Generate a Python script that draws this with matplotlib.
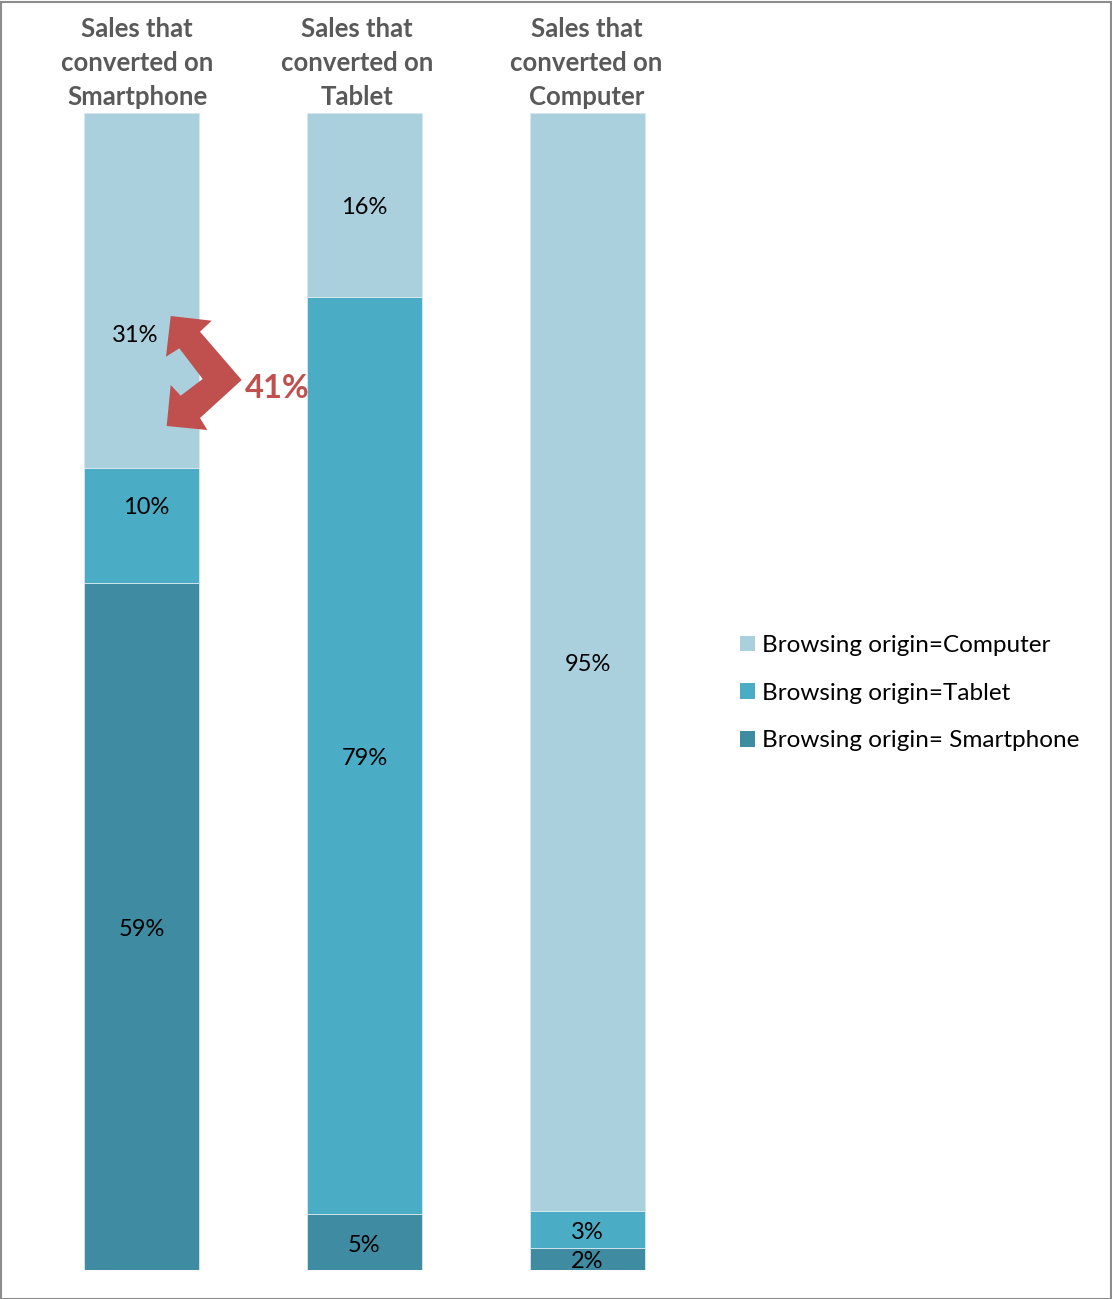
import matplotlib
matplotlib.use("Agg")
import matplotlib.pyplot as plt
from matplotlib.patches import Patch, Polygon, Rectangle
import numpy as np

plt.rcParams['font.family'] = ['Lato', 'DejaVu Sans']

# data (shares in %, labels show the rounded value)
categories = ["Sales that\nconverted on\nSmartphone",
              "Sales that\nconverted on\nTablet",
              "Sales that\nconverted on\nComputer"]
origins = ["Browsing origin= Smartphone", "Browsing origin=Tablet",
           "Browsing origin=Computer"]
smartphone = [59.4, 4.8, 1.9]
tablet = [9.9, 79.3, 3.2]
computer = [30.7, 15.9, 94.9]
highlight = "41%"

colors = ["#3E8BA2", "#4BACC6", "#AACFDD"]

W, H = 1112, 1299
fig = plt.figure(figsize=(W / 100, H / 100), dpi=100)

# main axes: bars drawn in category / percent units
ax = fig.add_axes([0, 29 / H, 1, (1270 - 113) / H])
x = np.arange(len(categories))
bar_w = 0.516
ax.set_xlim(-0.6345, 4.352)
ax.set_ylim(0, 100)
ax.axis('off')

series = [smartphone, tablet, computer]
bottom = np.zeros(len(categories))
# small label nudges (in data units) where the original moves a label
nudge = {(0, 2): (-0.03, -3.6), (0, 1): (0.02, 1.8)}
for si, vals in enumerate(series):
    vals = np.array(vals, dtype=float)
    ax.bar(x, vals, bar_w, bottom=bottom, color=colors[si],
           edgecolor='#d9e8ee', linewidth=0.6, label=origins[si])
    for ci, v in enumerate(vals):
        dx, dy = nudge.get((ci, si), (0, 0))
        ax.text(x[ci] + dx, bottom[ci] + v / 2 + dy - 0.25, f"{round(v)}%",
                ha='center', va='center', fontsize=17, color='black')
    bottom += vals

# headers above each bar
head_dx = [-0.02, -0.035, -0.005]
for ci, cat in enumerate(categories):
    ax.text(x[ci] + head_dx[ci], 104.3, cat, ha='center', va='center',
            fontsize=18.5, fontweight='bold', color='#595959', linespacing=1.5,
            clip_on=False)

# legend (top to bottom: Computer, Tablet, Smartphone)
handles = [Patch(facecolor=colors[i], edgecolor='none') for i in (2, 1, 0)]
labels = [origins[i] for i in (2, 1, 0)]
fig.legend(handles, labels, loc='upper left', bbox_to_anchor=(740 / W, 1 - 635 / H),
           frameon=False, fontsize=17.5, handlelength=0.6, handleheight=0.6,
           handletextpad=0.3, labelspacing=1.1, borderpad=0, borderaxespad=0)

# overlay in pixel space for the callout arrow
ov = fig.add_axes([0, 0, 1, 1], facecolor='none')
ov.set_xlim(0, W)
ov.set_ylim(H, 0)
ov.axis('off')
arrow_pts = [(170.7, 316), (211.7, 320.7), (200, 331.7), (241.7, 380),
             (200, 418), (207.3, 430), (166.7, 426), (170.7, 385),
             (180.7, 395.7), (202.7, 379), (179.3, 348.3), (166, 356.7)]
ov.add_patch(Polygon(arrow_pts, closed=True, facecolor='#C0504D', edgecolor='none'))
ov.text(277, 388, highlight, ha='center', va='center', fontsize=23.5,
        fontweight='bold', color='#C0504D')

# outer frame
fig.add_artist(Rectangle((0.5 / W, 0.5 / H), 1 - 2 / W, 1 - 2 / H,
                         transform=fig.transFigure, fill=False,
                         edgecolor='#8c8c8c', linewidth=1.5))

fig.savefig("out.png", dpi=100)
